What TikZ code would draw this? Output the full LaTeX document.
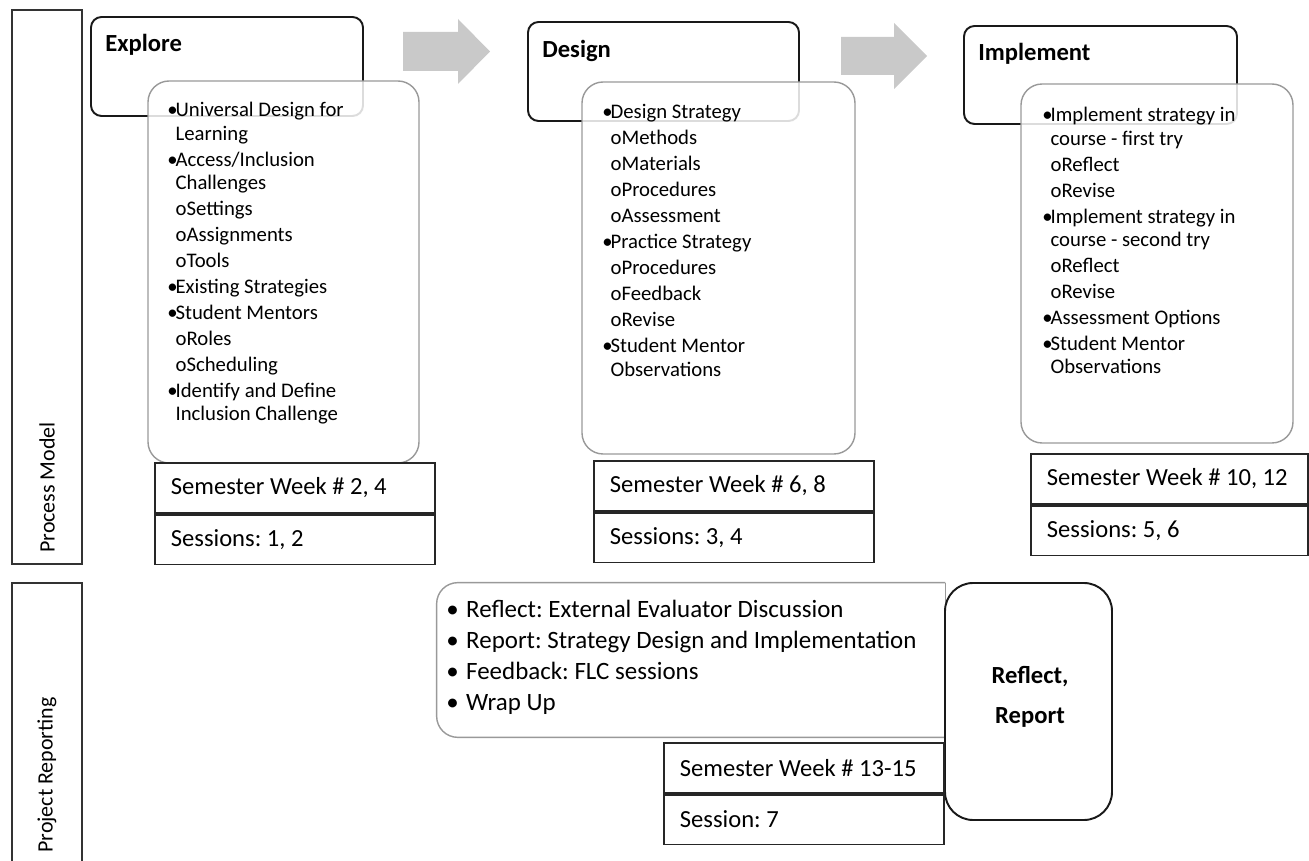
\documentclass[tikz,border=0pt]{standalone}
\usepackage{fontspec}
\setmainfont{Carlito}
\usetikzlibrary{positioning,fit}
\frenchspacing

\newlength{\bulw}\setlength{\bulw}{4.7pt}
\newcommand{\bul}{\makebox[\bulw][l]{•}}
\newcommand{\ind}{\hspace*{\bulw}}
\newcommand{\subi}{\hspace*{\bulw}o}
\newcommand{\rbul}{\makebox[11.3pt][l]{•}}

\tikzset{
  lanebox/.style={draw=black!80, line width=1pt, inner sep=0pt},
  lanetext/.style={font=\fontsize{12.5}{14}\selectfont, rotate=90, anchor=west, inner sep=0pt},
  headbox/.style={draw=black!90, line width=1.1pt, rounded corners=6pt, inner sep=0pt},
  headtext/.style={font=\bfseries\fontsize{14}{16}\selectfont, anchor=base west, inner sep=0pt},
  listbox/.style={draw=black!40, line width=0.8pt, fill=white, fill opacity=0.85, rounded corners=12pt, inner sep=0pt},
  listtext/.style={font=\fontsize{11.8}{13.3}\selectfont, align=left, anchor=north west, inner sep=0pt},
  reporttext/.style={font=\fontsize{14.2}{17.6}\selectfont, align=left, anchor=north west, inner sep=0pt},
  reportline/.style={draw=black!40, line width=0.8pt},
  reflectbox/.style={draw=black!90, line width=1.1pt, rounded corners=16pt, inner sep=0pt},
  reflecttext/.style={font=\bfseries\fontsize{14}{23}\selectfont, align=center, inner sep=0pt},
  weekbox/.style={draw=black!85, line width=1pt, anchor=north west, minimum width=5.6cm, minimum height=1cm,
    text width=4.96cm, inner xsep=0.32cm, align=flush left, font=\fontsize{14}{16}\selectfont},
  flowarrow/.style={fill=black!21},
}

\begin{document}
\begin{tikzpicture}[x=0.02cm, y=-0.02cm]
\clip (0,0) rectangle (1309,861);

% swim lanes
\node[lanebox, fit={(12,10)(82,564)}] (processlane) {};
\node[lanetext] (processlabel) at (47,553) {Process Model};
\node[lanebox, fit={(12,583)(82,900)}] (reportlane) {};
\node[lanetext] (reportlabel) at (47,853) {Project Reporting};

% block arrows
\fill[flowarrow] (403,32) -- (458,32) -- (458,19) -- (490,51.5) -- (458,84) -- (458,71) -- (403,71) -- cycle;
\fill[flowarrow] (841,37) -- (894,37) -- (894,23) -- (927,56) -- (894,89) -- (894,75) -- (841,75) -- cycle;

% phase headers
\node[headbox, fit={(91,17)(363,116)}] (explorehead) {};
\node[headtext] (exploretitle) at (105,52) {Explore};
\node[headbox, fit={(528,22)(799,121)}] (designhead) {};
\node[headtext] (designtitle) at (542,58) {Design};
\node[headbox, fit={(964,26)(1237,124)}] (implhead) {};
\node[headtext] (impltitle) at (978,61) {Implement};

% phase contents
\node[listbox, fit={(148,81)(419,463)}] (explorelist) {};
\node[listtext] (exploreitems) at (167,102) {%
  \bul Universal Design for\\ \ind Learning\\[1.5pt]
  \bul Access/Inclusion\\ \ind Challenges\\[1.5pt]
  \subi Settings\\[1.5pt]
  \subi Assignments\\[1.5pt]
  \subi Tools\\[1.5pt]
  \bul Existing Strategies\\[1.5pt]
  \bul Student Mentors\\[1.5pt]
  \subi Roles\\[1.5pt]
  \subi Scheduling\\[1.5pt]
  \bul Identify and Define\\ \ind Inclusion Challenge};

\node[listbox, fit={(582,82)(855,454)}] (designlist) {};
\node[listtext] (designitems) at (602,104) {%
  \bul Design Strategy\\[1.5pt]
  \subi Methods\\[1.5pt]
  \subi Materials\\[1.5pt]
  \subi Procedures\\[1.5pt]
  \subi Assessment\\[1.5pt]
  \bul Practice Strategy\\[1.5pt]
  \subi Procedures\\[1.5pt]
  \subi Feedback\\[1.5pt]
  \subi Revise\\[1.5pt]
  \bul Student Mentor\\ \ind Observations};

\node[listbox, fit={(1021,84)(1293,443)}] (impllist) {};
\node[listtext] (implitems) at (1042,107) {%
  \bul Implement strategy in\\ \ind course - first try\\[1.5pt]
  \subi Reflect\\[1.5pt]
  \subi Revise\\[1.5pt]
  \bul Implement strategy in\\ \ind course - second try\\[1.5pt]
  \subi Reflect\\[1.5pt]
  \subi Revise\\[1.5pt]
  \bul Assessment Options\\[1.5pt]
  \bul Student Mentor\\ \ind Observations};

% schedule boxes
\node[weekbox] (exploreweek) at (154,462) {Semester Week \# 2, 4};
\node[weekbox, below=0pt of exploreweek] (exploresess) {Sessions: 1, 2};
\node[weekbox] (designweek) at (593,460) {Semester Week \# 6, 8};
\node[weekbox, below=0pt of designweek] (designsess) {Sessions: 3, 4};
\node[weekbox, minimum width=5.54cm, text width=4.9cm] (implweek) at (1030,453) {Semester Week \# 10, 12};
\node[weekbox, minimum width=5.54cm, text width=4.9cm, below=0pt of implweek] (implsess) {Sessions: 5, 6};

% reporting
\node[fit={(437,583)(945,737)}, inner sep=0pt] (reportlist) {};
\draw[reportline, rounded corners=12pt] (reportlist.north east) -- (reportlist.north west)
  -- (reportlist.south west) -- (reportlist.south east);
\draw[reportline] (reportlist.south east) -- (reportlist.north east);
\node[reporttext] (reportitems) at (446,600) {%
  \rbul Reflect: External Evaluator Discussion\\
  \rbul Report: Strategy Design and Implementation\\
  \rbul Feedback: FLC sessions\\
  \rbul Wrap Up};
\node[reflectbox, fit={(945,583)(1112,820)}] (reflectnode) {};
\node[reflecttext] (reflecttitle) at (1030,697) {Reflect,\\Report};
\node[weekbox] (reportweek) at (663,742) {Semester Week \# 13-15};
\node[weekbox, below=0pt of reportweek] (reportsess) {Session: 7};
\end{tikzpicture}
\end{document}
